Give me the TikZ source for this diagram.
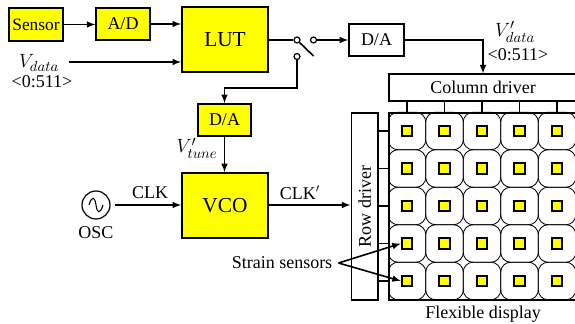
\documentclass[tikz,border=0pt]{standalone}
\usepackage{fontspec}
\usepackage{amsmath}
\setmainfont{Liberation Serif}
\definecolor{blockyellow}{RGB}{255, 255, 0}
\usetikzlibrary{shapes, arrows, positioning, calc}

\begin{document}
\begin{tikzpicture}[
    x=0.75pt, y=-0.75pt, >=latex,
    block/.style={rectangle, draw, line width=1.4pt, inner sep=0pt, align=center},
    yblock/.style={block, fill=blockyellow},
    wire/.style={line width=1.2pt},
    contact/.style={circle, draw, line width=0.9pt, fill=white, inner sep=0pt, minimum size=4.5pt},
    cell/.style={rectangle, draw, line width=0.6pt, rounded corners=7.5pt, inner sep=0pt, minimum size=28.2pt},
    pixel/.style={rectangle, draw, line width=1.3pt, fill=blockyellow, inner sep=0pt, minimum size=8pt},
    label/.style={inner sep=0pt, font=\fontsize{13.5}{15}\selectfont, align=center},
    mathlabel/.style={inner sep=0pt, font=\fontsize{15}{16}\selectfont}
]
    \useasboundingbox (0, 0) rectangle (575, 324);

    % top row
    \node[yblock, minimum width=40pt, minimum height=24.5pt, font=\fontsize{13}{14}\selectfont] (sensor) at (36, 24.5) {Sensor};
    \node[yblock, minimum width=40pt, minimum height=24pt, font=\fontsize{13.5}{14}\selectfont] (ad) at (123, 24) {A/D};
    \node[yblock, minimum width=64.5pt, minimum height=48.5pt, font=\fontsize{16}{17}\selectfont] (lut) at (225, 39.5) {LUT};
    \node[yblock, minimum width=40pt, minimum height=24pt, font=\fontsize{13.5}{14}\selectfont] (datune) at (224.5, 120) {D/A};
    \node[yblock, minimum width=64.5pt, minimum height=48.5pt, font=\fontsize{16}{17}\selectfont] (vco) at (225, 205.5) {VCO};
    \node[block, minimum width=41pt, minimum height=24pt, font=\fontsize{13.5}{14}\selectfont] (dadata) at (376.5, 40) {D/A};

    % oscillator
    \node[circle, draw, line width=0.9pt, minimum size=21pt, inner sep=0pt] (osc) at (96, 205) {};
    \draw[line width=0.8pt] (89, 205) .. controls (92, 195) and (95, 197) .. (96, 205)
        .. controls (97, 213) and (100, 215) .. (103, 205);
    \node[label] (osclabel) at (96, 233) {OSC};

    % switch
    \node[contact] (swin) at (297, 40) {};
    \node[contact] (swout) at (313.5, 40) {};
    \node[contact] (swtune) at (297, 56.5) {};
    \coordinate (swtip) at (313.5, 56);
    \draw[wire] (swin) -- (swtip);

    % display
    \node[block, minimum width=165pt, minimum height=20pt, anchor=north west] (coldrv) at (388, 73.5) {};
    \node[label] (collabel) at (483, 87) {Column driver};
    \node[block, minimum width=20pt, minimum height=140pt, anchor=north west] (rowdrv) at (350.5, 112) {};
    \node[rotate=90, label] (rowlabel) at (rowdrv.center) {Row driver};
    \node[block, minimum width=165pt, minimum height=140pt, anchor=north west] (display) at (388, 112) {};
    \begin{scope}
        \clip (388, 112) rectangle (575, 299);
        \foreach \row/\yy in {1/131, 2/168.5, 3/206, 4/243.5, 5/281} {
            \foreach \col/\xx in {1/407, 2/444.5, 3/482, 4/519.5, 5/557} {
                \node[cell] (cell\row\col) at (\xx, \yy) {};
            }
        }
    \end{scope}
    \foreach \row/\yy in {1/131, 2/168.5, 3/206, 4/243.5, 5/281} {
        \foreach \col/\xx in {1/407, 2/444.5, 3/482, 4/519.5, 5/557} {
            \node[pixel] (pixel\row\col) at (\xx, \yy) {};
        }
        \draw[wire] (rowdrv.east |- pixel\row1) -- (display.west |- pixel\row1);
    }
    \foreach \col in {1, ..., 5} {
        \draw[wire] (coldrv.south -| pixel1\col) -- (display.north -| pixel1\col);
    }

    % connectors
    \draw[wire, ->] (sensor.east) -- (ad.west |- sensor.east);
    \draw[wire, ->] (ad.east) -- (lut.west |- ad.east);
    \coordinate (vdatain) at (69, 62);
    \draw[wire, ->] (vdatain) -- (lut.west |- vdatain);
    \draw[wire] (lut.east |- swin) -- (swin);
    \draw[wire, ->] (swout) -- (dadata.west);
    \draw[wire, ->] (dadata.east) -| (collabel.north |- coldrv.north);
    \coordinate (swbend) at (297, 88);
    \draw[wire, ->] (swtune) -- (swbend) -| (datune.north);
    \draw[wire, ->] (datune.south) -- (vco.north -| datune.south);
    \draw[wire, ->] (osc.east) ++(4, 0) -- (vco.west |- osc.east);
    \draw[wire, ->] (vco.east |- osc.east) -- (rowdrv.west |- osc.east);

    % labels
    \node[mathlabel] (vdatalabel) at (39, 63) {$V_{data}$};
    \node[label] (rangein) at (42, 82) {<0:511>};
    \node[mathlabel] (vdatapr) at (515, 32) {$V'_{data}$};
    \node[label] (rangeout) at (518, 55) {<0:511>};
    \node[mathlabel] (vtune) at (197, 148) {$V'_{tune}$};
    \node[label] (clk) at (150, 193) {CLK};
    \node[label] (clkpr) at (300, 193) {CLK$'$};
    \node[label] (strain) at (282, 263) {Strain sensors};
    \node[label] (flex) at (483, 314) {Flexible display};
    \draw[wire, ->] (strain.east) ++(6, 0) coordinate (fork) -- (pixel41.west);
    \draw[wire, ->] (fork) -- (pixel51.west);
\end{tikzpicture}
\end{document}
